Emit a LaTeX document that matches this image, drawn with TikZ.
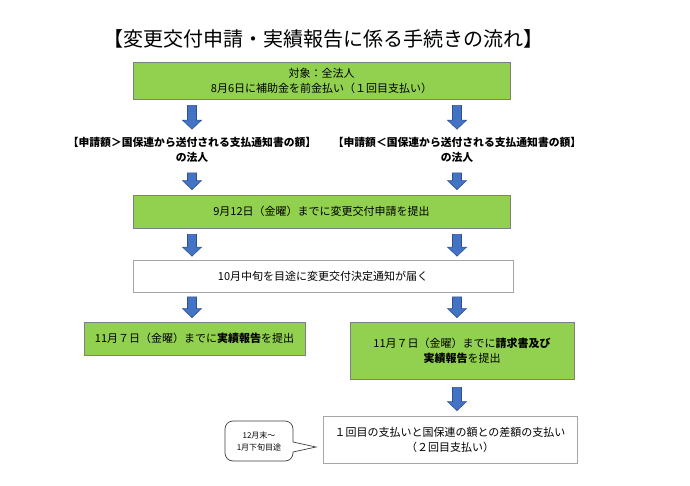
\documentclass[tikz,border=0pt]{standalone}
\usepackage{fontspec}
\setmainfont{Noto Sans CJK JP}
\usetikzlibrary{calc}
\definecolor{grn}{HTML}{92D050}
\definecolor{grnedge}{HTML}{7F7F7F}
\definecolor{arrfill}{HTML}{4472C4}
\definecolor{arredge}{HTML}{2F528F}
\definecolor{wedge}{HTML}{A6A6A6}
\begin{document}
\begin{tikzpicture}[x=1pt,y=-1pt,
  bodyfont/.style={font=\fontsize{11}{15}\selectfont},
  greenbox/.style={draw=grnedge, fill=grn, line width=0.8pt, inner sep=0pt, align=center, bodyfont},
  whitebox/.style={draw=wedge, fill=white, line width=0.8pt, inner sep=0pt, align=center, bodyfont},
  lbl/.style={align=center, inner sep=0pt, font=\bfseries\fontsize{10.8}{15}\selectfont},
  blk/.style={fill=arrfill, draw=arredge, line width=0.6pt, line join=miter,
    to path={let \p1=(\tikztostart), \p2=(\tikztotarget) in
      (\x1-4.5pt,\y1) -- (\x1+4.5pt,\y1) -- (\x1+4.5pt,\y2+9pt) -- (\x1+9.5pt,\y2+9pt)
      -- (\x1,\y2) -- (\x1-9.5pt,\y2+9pt) -- (\x1-4.5pt,\y2+9pt) -- cycle}}
]
\useasboundingbox[fill=white] (0,0) rectangle (690,486);

\node[inner sep=0pt, font=\fontsize{20}{22}\selectfont] (title) at (323,39) {【変更交付申請・実績報告に係る手続きの流れ】};

\node[greenbox, minimum width=377pt, minimum height=37pt] (top) at (321.5,80.5)
  {対象：全法人\\8月6日に補助金を前金払い（１回目支払い）};

\node[lbl] (labL) at (192,150) {【申請額＞国保連から送付される支払通知書の額】\\の法人};
\node[lbl] (labR) at (457,150) {【申請額＜国保連から送付される支払通知書の額】\\の法人};

\node[greenbox, minimum width=377pt, minimum height=33pt] (box2) at (321.5,211.5)
  {9月12日（金曜）までに変更交付申請を提出};

\node[whitebox, minimum width=380pt, minimum height=32pt] (wb1) at (323,276.5)
  {10月中旬を目途に変更交付決定通知が届く};

\node[greenbox, minimum width=221pt, minimum height=33pt] (gL) at (194.5,338.5)
  {11月７日（金曜）までに\textbf{実績報告}を提出};

\node[greenbox, minimum width=224pt, minimum height=57pt] (gR) at (462,350.5)
  {11月７日（金曜）までに\textbf{請求書及び}\\\textbf{実績報告}を提出};

\node[whitebox, minimum width=254pt, minimum height=47pt] (wb2) at (450,439.5)
  {１回目の支払いと国保連の額との差額の支払い\\（２回目支払い）};

% callout
\draw[draw=black!75, fill=white, line width=0.7pt] (293,452) [rounded corners=8pt] -- (293,461) -- (225,461) -- (225,421) -- (293,421) [sharp corners] -- (293,442) -- (316,447) -- cycle;
\node[inner sep=0pt, align=center, font=\fontsize{8}{12}\selectfont] (call) at (259,441) {12月末～\\1月下旬目途};

% block arrows
\path[blk] ($(top.south -| labL)+(0,6)$) to ($(labL.north)+(0,-8)$);
\path[blk] ($(top.south -| labR)+(0,6)$) to ($(labR.north)+(0,-8)$);
\path[blk] ($(labL.south)+(0,10)$) to ($(box2.north -| labL)+(0,-5)$);
\path[blk] ($(labR.south)+(0,10)$) to ($(box2.north -| labR)+(0,-5)$);
\path[blk] ($(box2.south -| labL)+(0,6)$) to ($(wb1.north -| labL)+(0,-4)$);
\path[blk] ($(box2.south -| labR)+(0,6)$) to ($(wb1.north -| labR)+(0,-4)$);
\path[blk] ($(wb1.south -| labL)+(0,4)$) to ($(gL.north -| labL)+(0,-4)$);
\path[blk] ($(wb1.south -| labR)+(0,4)$) to ($(gR.north -| labR)+(0,-4)$);
\path[blk] ($(gR.south -| labR)+(0,8)$) to ($(wb2.north -| labR)+(0,-5)$);
\end{tikzpicture}
\end{document}
